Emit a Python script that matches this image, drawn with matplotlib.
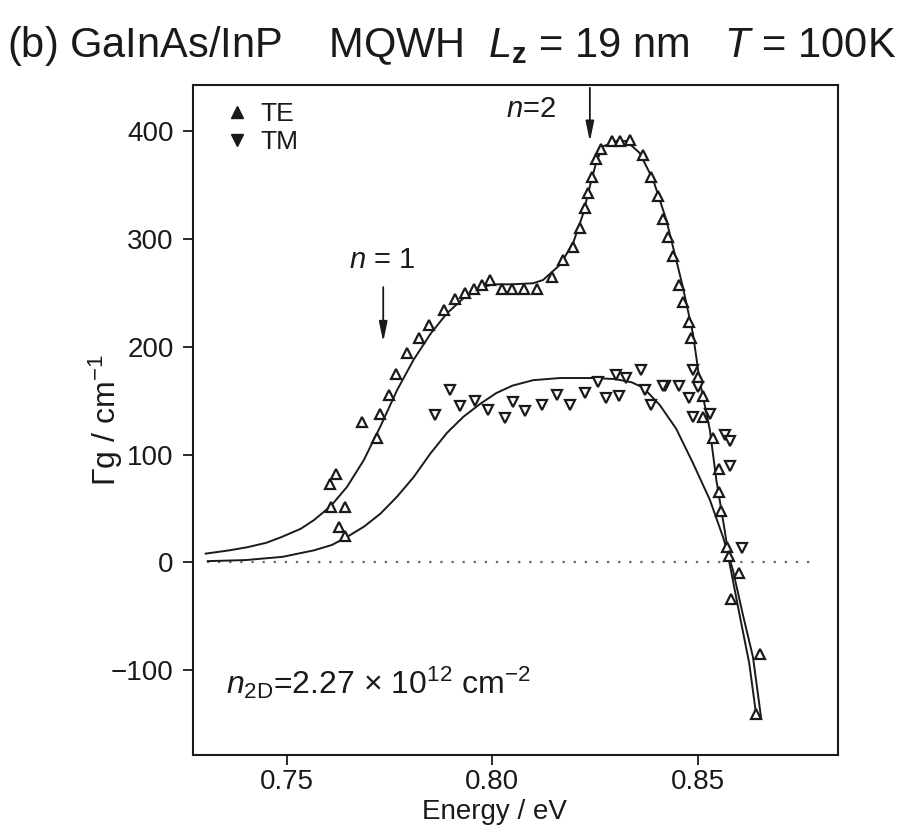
import matplotlib
matplotlib.use("Agg")
import matplotlib.pyplot as plt
from matplotlib.lines import Line2D

plt.rcParams['font.family'] = ['Liberation Sans', 'DejaVu Sans']
plt.rcParams['mathtext.fontset'] = 'custom'
plt.rcParams['mathtext.rm'] = 'Liberation Sans'
plt.rcParams['mathtext.it'] = 'Liberation Sans:italic'
plt.rcParams['mathtext.bf'] = 'Liberation Sans:bold'

# fit curves (energy in eV, gain in cm^-1)
te_fit_e = [0.7303, 0.7360, 0.7405, 0.7450, 0.7485, 0.7534, 0.7566, 0.7607, 0.7647, 0.7688,
            0.7728, 0.7769, 0.7809, 0.7850, 0.7890, 0.7930, 0.7971, 0.8000, 0.8050, 0.8100,
            0.8124, 0.8165, 0.8197, 0.8222, 0.8238, 0.8254, 0.8270, 0.8303, 0.8327, 0.8359,
            0.8392, 0.8424, 0.8448, 0.8464, 0.8489, 0.8505, 0.8530, 0.8546, 0.8566, 0.8578,
            0.8602, 0.8626, 0.8644]
te_fit_g = [8, 11, 14, 18, 23, 31, 39, 52, 70, 95,
            126, 160, 188, 212, 231, 245, 254, 258, 258, 259,
            262, 276, 296, 324, 349, 372, 386, 391, 391, 380,
            355, 318, 281, 256, 212, 169, 123, 76, 30, -1,
            -48, -94, -145]

tm_fit_e = [0.7308, 0.7400, 0.7490, 0.7566, 0.7610, 0.7647, 0.7688, 0.7728, 0.7769, 0.7809,
            0.7850, 0.7890, 0.7930, 0.7971, 0.8010, 0.8050, 0.8100, 0.8165, 0.8250, 0.8300,
            0.8340, 0.8368, 0.8408, 0.8448, 0.8489, 0.8530, 0.8562, 0.8586, 0.8610, 0.8635,
            0.8655]
tm_fit_g = [1, 2, 5, 11, 16, 23.5, 33, 45, 61, 79,
            101, 120, 135, 147, 157, 164, 169, 171, 171, 170,
            167, 162, 146, 124, 92, 58, 23.5, -7, -48, -88,
            -145]

# measured points
te_e = [0.7605, 0.7619, 0.7607, 0.7643, 0.7627, 0.7643, 0.7684, 0.7720, 0.7728, 0.7748,
        0.7765, 0.7793, 0.7821, 0.7846, 0.7882, 0.7910, 0.7934, 0.7955, 0.7975, 0.7995,
        0.8024, 0.8048, 0.8077, 0.8109, 0.8145, 0.8173, 0.8197, 0.8214, 0.8226, 0.8234,
        0.8242, 0.8254, 0.8266, 0.8291, 0.8311, 0.8335, 0.8367, 0.8388, 0.8404, 0.8416,
        0.8428, 0.8440, 0.8456, 0.8464, 0.8480, 0.8485, 0.8501, 0.8513, 0.8513, 0.8538,
        0.8553, 0.8553, 0.8557, 0.8573, 0.8577, 0.8601, 0.8581, 0.8651, 0.8642]
te_g = [73, 82, 51, 51, 33, 24, 130, 115, 138, 155,
        175, 194, 208, 220, 234, 244, 250, 254, 257, 262,
        254, 254, 254, 254, 265, 281, 293, 310, 329, 343,
        358, 374, 384, 391, 391, 392, 378, 358, 340, 319,
        302, 284, 257, 242, 223, 208, 172, 154, 135, 115,
        87, 65, 48, 14, 6, -10, -34, -85, -141]

tm_e = [0.7862, 0.7898, 0.7921, 0.7959, 0.7991, 0.8032, 0.8050, 0.8080, 0.8121, 0.8157,
        0.8190, 0.8226, 0.8258, 0.8278, 0.8309, 0.8302, 0.8327, 0.8363, 0.8371, 0.8388,
        0.8420, 0.8416, 0.8456, 0.8489, 0.8501, 0.8480, 0.8489, 0.8530, 0.8566, 0.8578,
        0.8578, 0.8609]
tm_g = [137, 160, 145, 150, 141, 134, 149, 140, 146, 155,
        146, 157, 167, 152, 154, 174, 171, 178, 160, 146,
        164, 164, 164, 178, 163, 152, 135, 138, 118, 113,
        89, 13]

x_ticks = [0.75, 0.80, 0.85]
x_labels = ["0.75", "0.80", "0.85"]
y_ticks = [-100, 0, 100, 200, 300, 400]
y_labels = ["\u2212100", "0", "100", "200", "300", "400"]

ink = "#1a1a1a"

fig = plt.figure(figsize=(9.04, 8.32), dpi=100)
ax = fig.add_axes([0.2135, 0.0925, 0.7135, 0.8053])

ax.plot([0.7305, 0.878], [0, 0], linestyle=(0, (1, 4)), color="#666666", lw=1.6)
ax.plot(te_fit_e, te_fit_g, color=ink, lw=1.4)
ax.plot(tm_fit_e, tm_fit_g, color=ink, lw=1.4)
ax.plot(te_e, te_g, linestyle="none", marker="^", ms=7, mfc="white", mec=ink, mew=1.6)
ax.plot(tm_e, tm_g, linestyle="none", marker="v", ms=7, mfc="white", mec=ink, mew=1.6)

ax.set_xlim(0.7272, 0.8842)
ax.set_ylim(-179, 443)
ax.set_xticks(x_ticks, x_labels)
ax.set_yticks(y_ticks, y_labels)
ax.tick_params(direction="out", length=7, width=1.3, labelsize=20, colors=ink, pad=7)
ax.tick_params(axis="x", pad=3)
for sp in ax.spines.values():
    sp.set_linewidth(1.5)
    sp.set_color(ink)

ax.set_xlabel("Energy / eV", fontsize=20, color=ink)
ax.xaxis.set_label_coords(0.467, -0.066)
ax.set_ylabel("\u0393g / cm$^{-1}$", fontsize=23, color=ink)
ax.yaxis.set_label_coords(-0.105, 0.5)

handles = [Line2D([], [], linestyle="none", marker="^", ms=8, color=ink),
           Line2D([], [], linestyle="none", marker="v", ms=8, color=ink)]
ax.legend(handles, ["TE", "TM"], loc="upper left", bbox_to_anchor=(0.015, 1.01),
          frameon=False, fontsize=19, handlelength=0.8, handletextpad=0.5,
          labelspacing=0.15, labelcolor=ink)

arrow = dict(arrowstyle="-|>,head_length=1.2,head_width=0.25", color=ink, lw=1.3)
ax.annotate("", xy=(0.8238, 388), xytext=(0.8238, 443), arrowprops=arrow)
ax.annotate("", xy=(0.7735, 202), xytext=(0.7735, 258), arrowprops=arrow)
ax.text(0.8095, 421, "$n$=2", fontsize=21, color=ink, ha="center", va="center")
ax.text(0.7733, 281, "$n$ = 1", fontsize=21, color=ink, ha="center", va="center")
ax.text(0.7352, -112, "$n_{\\mathrm{2D}}$=2.27 $\\times$ 10$^{12}$ cm$^{-2}$",
        fontsize=23, color=ink, ha="left", va="center")

fig.text(0.008, 0.945, "(b) GaInAs/InP    MQWH  $L_{\\mathbf{z}}$ = 19 nm   $T$ = 100K",
         fontsize=30, color=ink, ha="left", va="center")

fig.savefig("out.png", dpi=100)
